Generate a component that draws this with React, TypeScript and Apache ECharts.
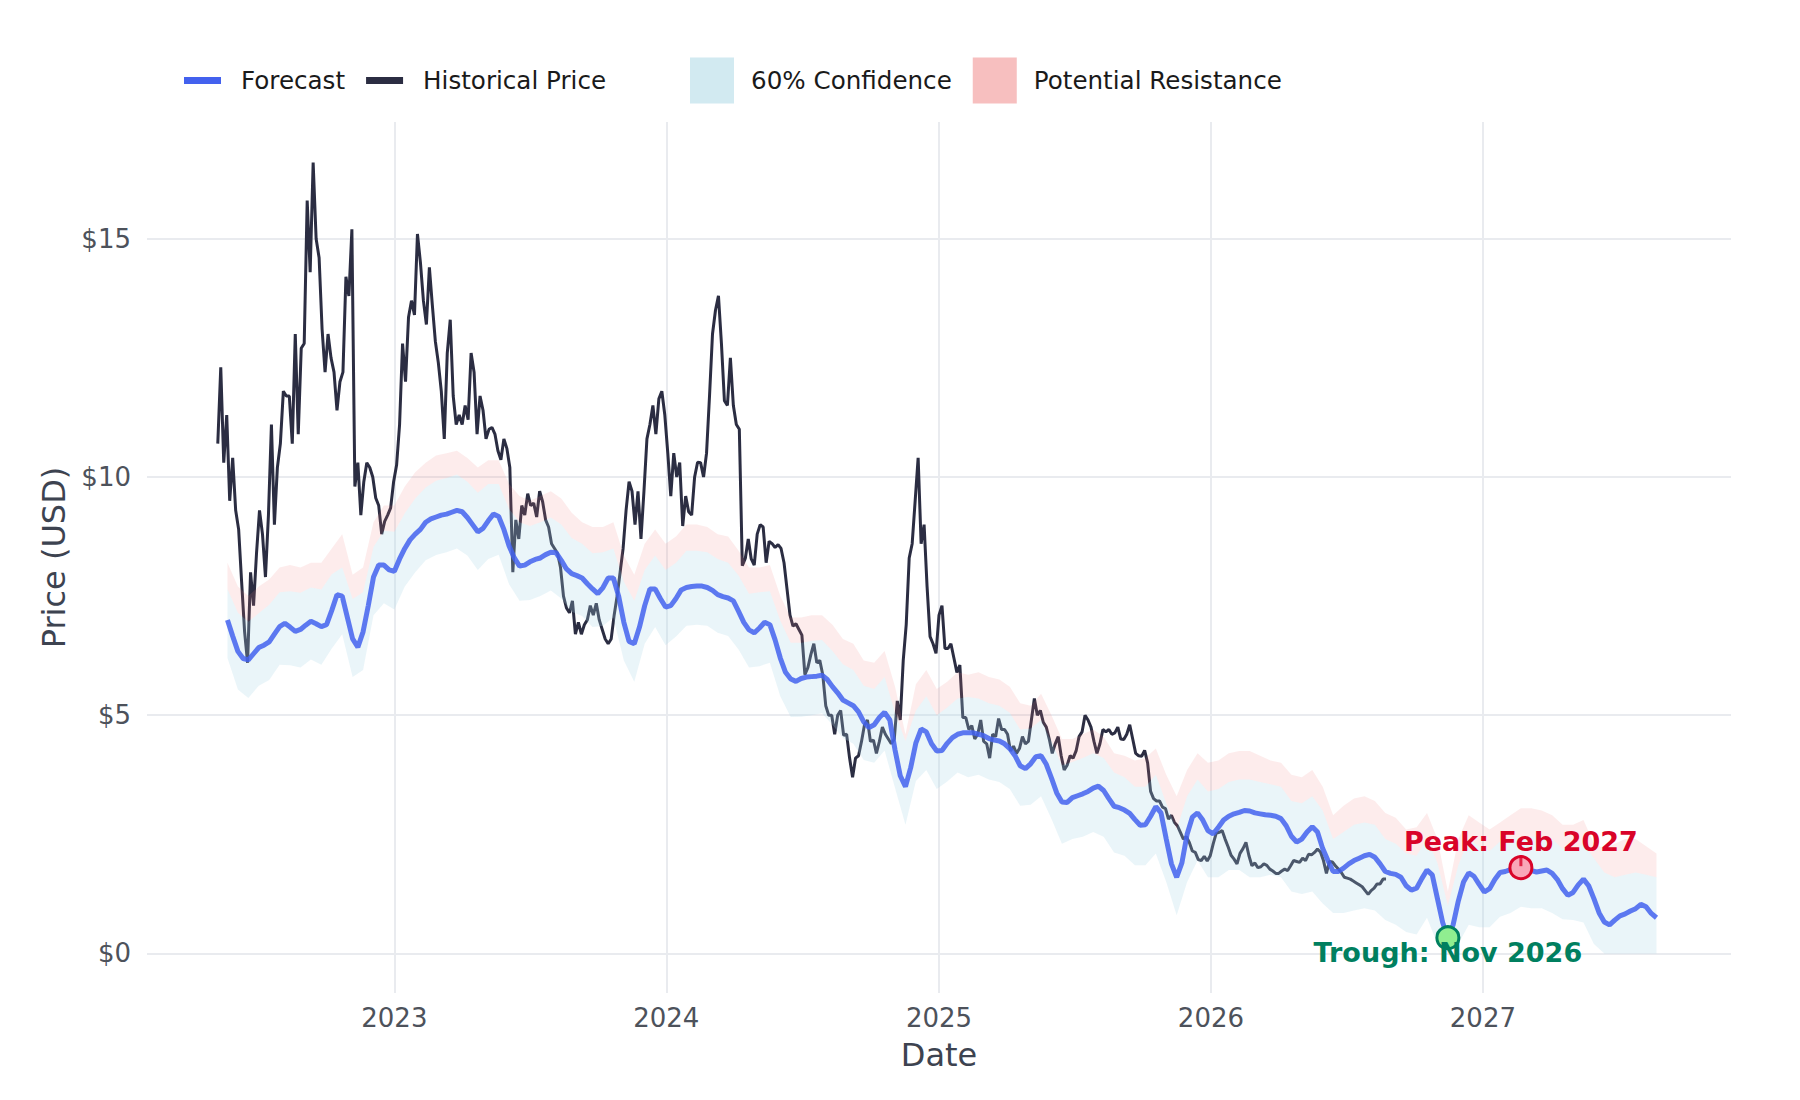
import { useEffect, useRef } from "react";
import * as echarts from "echarts";

// historical closes, one reading every 4 days
const historyStart = "2022-05-09";
const historyStepDays = 4;
const historyPrice = [
  10.7, 12.3, 10.3, 11.3, 9.5, 10.4, 9.3, 8.9, 7.8, 6.75,
  6.1, 8.0, 7.3, 8.4, 9.3, 8.8, 7.9, 9.2, 11.1, 9.0,
  10.2, 10.7, 11.8, 11.7, 11.7, 10.7, 13.0, 10.9, 12.7, 12.8,
  15.8, 14.3, 16.6, 15.0, 14.6, 13.1, 12.2, 13.0, 12.5, 12.2,
  11.4, 12.0, 12.2, 14.2, 13.8, 15.2, 9.8, 10.3, 9.2, 9.9,
  10.3, 10.2, 10.0, 9.56, 9.4, 8.8, 9.07, 9.2, 9.35, 9.9,
  10.25, 11.1, 12.8, 12.0, 13.35, 13.7, 13.4, 15.1, 14.5, 13.7,
  13.2, 14.4, 13.6, 12.85, 12.4, 11.8, 10.8, 12.6, 13.3, 11.7,
  11.1, 11.3, 11.1, 11.5, 11.2, 12.6, 12.2, 10.9, 11.7, 11.4,
  10.8, 11.0, 11.04, 10.9, 10.55, 10.36, 10.8, 10.6, 10.2, 8.0,
  9.1, 8.7, 9.4, 9.2, 9.65, 9.4, 9.45, 9.16, 9.7, 9.48,
  9.1, 8.95, 8.6, 8.5, 8.4, 8.1, 7.5, 7.25, 7.15, 7.4,
  6.7, 6.95, 6.7, 6.9, 7.0, 7.3, 7.1, 7.35, 7.0, 6.8,
  6.6, 6.5, 6.6, 7.1, 7.5, 8.0, 8.5, 9.3, 9.9, 9.7,
  9.0, 9.7, 8.7, 9.7, 10.8, 11.1, 11.5, 10.9, 11.64, 11.8,
  11.3, 10.5, 9.6, 10.5, 10.0, 10.3, 8.97, 9.6, 9.27, 9.2,
  10.0, 10.31, 10.3, 10.0, 10.5, 11.7, 13.0, 13.5, 13.8, 12.8,
  11.6, 11.5, 12.5, 11.5, 11.1, 11.0, 8.14, 8.29, 8.7, 8.28,
  8.15, 8.8, 9.0, 8.95, 8.2, 8.65, 8.6, 8.52, 8.58, 8.5,
  8.2, 7.65, 7.1, 6.87, 6.92, 6.8, 6.68, 5.85, 6.0, 6.27,
  6.5, 6.1, 6.15, 5.85, 5.2, 5.0, 5.0, 4.6, 5.0, 5.1,
  4.58, 4.6, 4.1, 3.7, 4.1, 4.15, 4.45, 4.8, 4.9, 4.45,
  4.48, 4.2, 4.45, 4.75, 4.6, 4.5, 4.4, 4.5, 5.3, 4.9,
  6.15, 6.9, 8.3, 8.6, 9.5, 10.4, 8.6, 9.0, 7.7, 6.65,
  6.5, 6.3, 7.1, 7.3, 6.4, 6.4, 6.5, 6.2, 5.9, 6.05,
  4.95, 4.95, 4.7, 4.78, 4.5, 4.6, 4.9, 4.45, 4.4, 4.1,
  4.6, 4.55, 4.93, 4.7, 4.7, 4.6, 4.25, 4.35, 4.2, 4.3,
  4.55, 4.4, 4.45, 4.9, 5.35, 5.0, 5.1, 4.85, 4.75, 4.5,
  4.2, 4.4, 4.55, 4.15, 3.85, 3.95, 4.15, 4.1, 4.25, 4.55,
  4.65, 5.0, 4.9, 4.75, 4.45, 4.2, 4.4, 4.7, 4.65, 4.7,
  4.6, 4.63, 4.75, 4.5, 4.49, 4.6, 4.8, 4.5, 4.2, 4.15,
  4.14, 4.26, 4.0, 3.4, 3.25, 3.2, 3.2, 3.07, 3.04, 2.82,
  2.9, 2.75, 2.68, 2.54, 2.4, 2.45, 2.33, 2.15, 2.12, 1.97,
  1.95, 2.04, 1.94, 2.05, 2.3, 2.52, 2.54, 2.58, 2.4, 2.24,
  2.06, 1.98, 1.88, 2.1, 2.2, 2.33, 2.05, 1.84, 1.9, 1.8,
  1.82, 1.88, 1.85, 1.77, 1.73, 1.68, 1.68, 1.73, 1.77, 1.74,
  1.84, 1.95, 1.93, 1.91, 2.0, 1.95, 2.08, 2.07, 2.12, 2.19,
  2.13, 1.95, 1.68, 1.93, 1.92, 1.84, 1.77, 1.7, 1.6, 1.58,
  1.56, 1.52, 1.48, 1.44, 1.4, 1.32, 1.24, 1.32, 1.37, 1.46,
  1.46, 1.56, 1.56,
];

// weekly forecast
const forecastStart = "2022-05-22";
const forecastStepDays = 7;
const forecastPrice = [
  7.0, 6.66, 6.34, 6.19, 6.16, 6.29, 6.42, 6.47, 6.54, 6.7,
  6.86, 6.93, 6.85, 6.76, 6.8, 6.89, 6.97, 6.92, 6.86, 6.9,
  7.2, 7.53, 7.5, 7.05, 6.6, 6.43, 6.75, 7.3, 7.9, 8.15,
  8.15, 8.05, 8.02, 8.28, 8.5, 8.68, 8.8, 8.9, 9.05, 9.12,
  9.16, 9.2, 9.22, 9.26, 9.3, 9.27, 9.15, 9.0, 8.85, 8.92,
  9.08, 9.22, 9.17, 8.9, 8.55, 8.3, 8.13, 8.15, 8.22, 8.27,
  8.3, 8.37, 8.42, 8.41, 8.25, 8.07, 7.97, 7.93, 7.88, 7.76,
  7.65, 7.55, 7.68, 7.88, 7.88, 7.5, 6.95, 6.55, 6.5, 6.85,
  7.3, 7.65, 7.65, 7.45, 7.27, 7.3, 7.45, 7.63, 7.68, 7.7,
  7.71, 7.71, 7.68, 7.62, 7.53, 7.49, 7.46, 7.4, 7.18, 6.95,
  6.79, 6.73, 6.83, 6.95, 6.9, 6.58, 6.2, 5.9, 5.76, 5.71,
  5.77, 5.8, 5.81, 5.82, 5.84, 5.75, 5.6, 5.47, 5.32, 5.26,
  5.2, 5.07, 4.86, 4.74, 4.8, 4.95, 5.06, 4.9, 4.27, 3.73,
  3.5, 3.9, 4.42, 4.71, 4.65, 4.4, 4.25, 4.26, 4.41, 4.53,
  4.6, 4.63, 4.63, 4.63, 4.6, 4.57, 4.51, 4.48, 4.46, 4.4,
  4.3, 4.15, 3.94, 3.88, 3.98, 4.13, 4.15, 3.97, 3.68, 3.37,
  3.18, 3.17, 3.27, 3.31, 3.35, 3.4, 3.47, 3.51, 3.42, 3.25,
  3.09, 3.06, 3.01, 2.94, 2.81, 2.69, 2.7, 2.88, 3.08, 2.95,
  2.4, 1.88, 1.6, 1.9, 2.5, 2.86, 2.95, 2.8, 2.58, 2.51,
  2.65, 2.8, 2.88, 2.93, 2.96, 3.0, 2.99, 2.95, 2.93, 2.91,
  2.9, 2.88, 2.83, 2.68, 2.46, 2.34, 2.4, 2.55, 2.66, 2.55,
  2.2, 1.95, 1.72, 1.72, 1.79, 1.88, 1.95, 2.0, 2.05, 2.08,
  2.02, 1.88, 1.72, 1.68, 1.66, 1.6, 1.42, 1.33, 1.37, 1.57,
  1.75, 1.65, 1.15, 0.65, 0.33, 0.6, 1.1, 1.5, 1.69, 1.62,
  1.45, 1.29, 1.36, 1.55, 1.7, 1.72, 1.76, 1.79, 1.8, 1.79,
  1.74, 1.71, 1.73, 1.75, 1.68, 1.55, 1.36, 1.22, 1.28, 1.44,
  1.56, 1.42, 1.15, 0.85, 0.66, 0.6, 0.7, 0.79, 0.83, 0.89,
  0.94, 1.03, 0.98, 0.84, 0.75,
];

// bands, every 14 days from the forecast start
const bandStepDays = 14;
const confidenceLow = [
  6.2, 5.54, 5.36, 5.62, 5.74, 6.06, 6.05, 6.0, 6.17, 6.06,
  6.4, 6.7, 5.8, 5.95, 7.1, 7.35, 7.22, 7.7, 8.0, 8.25,
  8.36, 8.42, 8.5, 8.35, 8.05, 8.28, 8.37, 7.75, 7.4, 7.42,
  7.5, 7.62, 7.45, 7.17, 7.08, 6.85, 6.88, 7.05, 6.15, 5.7,
  6.5, 6.85, 6.47, 6.65, 6.88, 6.9, 6.88, 6.73, 6.66, 6.38,
  6.0, 6.03, 6.1, 5.4, 4.96, 4.97, 5.0, 5.04, 4.8, 4.52,
  4.4, 4.06, 4.0, 4.26, 3.47, 2.7, 3.62, 3.85, 3.45, 3.61,
  3.8, 3.7, 3.75, 3.65, 3.6, 3.45, 3.1, 3.12, 3.3, 2.82,
  2.3, 2.4, 2.45, 2.55, 2.45, 2.12, 2.05, 1.85, 1.85, 2.1,
  1.5, 0.8, 1.5, 1.95, 1.6, 1.6, 1.75, 1.75, 1.6, 1.6,
  1.65, 1.6, 1.3, 1.25, 1.3, 1.05, 0.85, 0.85, 0.9, 0.95,
  0.9, 0.7, 0.6, 0.45, 0.4, 0.75, 0.2, 0, 0.2, 0.6,
  0.55, 0.55, 0.77, 0.85, 0.98, 0.95, 0.95, 0.85, 0.72, 0.7,
  0.65, 0.2, 0, 0, 0, 0, 0, 0,
];
const confidenceHigh = [
  7.65, 7.15, 6.96, 7.14, 7.32, 7.58, 7.6, 7.57, 7.68, 7.64,
  7.96, 8.1, 7.44, 7.58, 8.53, 8.87, 8.85, 9.24, 9.55, 9.78,
  9.92, 9.98, 10.05, 9.9, 9.67, 9.85, 9.85, 9.33, 9.05, 8.97,
  9.05, 9.15, 9.0, 8.72, 8.6, 8.4, 8.42, 8.5, 7.8, 7.4,
  8.05, 8.35, 8.05, 8.2, 8.45, 8.45, 8.42, 8.28, 8.2, 7.93,
  7.55, 7.58, 7.6, 6.98, 6.52, 6.52, 6.56, 6.58, 6.35, 6.07,
  5.95, 5.62, 5.55, 5.8, 5.05, 4.46, 5.1, 5.4, 5.0, 5.16,
  5.35, 5.38, 5.35, 5.25, 5.2, 5.05, 4.7, 4.72, 4.9, 4.45,
  3.95, 4.02, 4.1, 4.2, 4.1, 3.8, 3.7, 3.5, 3.5, 3.75,
  3.15, 2.6, 3.3, 3.65, 3.4, 3.45, 3.6, 3.65, 3.65, 3.6,
  3.55, 3.5, 3.2, 3.15, 3.3, 3.0, 2.4, 2.55, 2.7, 2.75,
  2.7, 2.4, 2.3, 2.1, 2.05, 2.4, 1.9, 1.0, 1.85, 2.4,
  2.25, 2.15, 2.35, 2.4, 2.45, 2.45, 2.45, 2.4, 2.2, 2.15,
  2.3, 2.0, 1.7, 1.6, 1.65, 1.7, 1.65, 1.6,
];
const resistanceHigh = [
  8.2, 7.7, 7.5, 7.7, 7.85, 8.1, 8.15, 8.1, 8.2, 8.2,
  8.5, 8.8, 7.95, 8.1, 9.05, 9.4, 9.4, 9.8, 10.1, 10.3,
  10.45, 10.5, 10.55, 10.4, 10.2, 10.35, 10.35, 9.85, 9.6, 9.5,
  9.6, 9.7, 9.55, 9.25, 9.05, 8.95, 8.95, 9.05, 8.35, 7.95,
  8.6, 8.9, 8.6, 8.75, 9.0, 9.0, 8.95, 8.8, 8.75, 8.45,
  8.1, 8.1, 8.15, 7.5, 7.05, 7.05, 7.1, 7.1, 6.9, 6.6,
  6.5, 6.15, 6.1, 6.35, 5.6, 4.6, 5.65, 5.95, 5.55, 5.7,
  5.9, 5.85, 5.9, 5.8, 5.75, 5.6, 5.25, 5.2, 5.45, 5.0,
  4.5, 4.5, 4.6, 4.7, 4.55, 4.2, 4.15, 4.05, 4.1, 4.3,
  3.75, 3.3, 3.85, 4.2, 4.0, 4.05, 4.2, 4.25, 4.25, 4.15,
  4.05, 4.0, 3.75, 3.7, 3.85, 3.5, 2.9, 3.1, 3.25, 3.3,
  3.2, 2.95, 2.85, 2.6, 2.65, 2.95, 2.4, 1.3, 2.4, 2.9,
  2.75, 2.6, 2.75, 2.9, 3.05, 3.05, 3.0, 2.9, 2.7, 2.7,
  2.8, 2.3, 2.2, 2.3, 2.4, 2.4, 2.25, 2.1,
];

const yTicks = [0, 5, 10, 15];
const xTickYears = [2023, 2024, 2025, 2026, 2027];
const monthNames = ["Jan", "Feb", "Mar", "Apr", "May", "Jun", "Jul", "Aug", "Sep", "Oct", "Nov", "Dec"];

const DAY = 86400000;
const FONT = "DejaVu Sans";

function dayMs(s: string) {
  const [y, m, d] = s.split("-").map(Number);
  return new Date(y, m - 1, d).getTime();
}

const historyT0 = dayMs(historyStart);
const forecastT0 = dayMs(forecastStart);
const historyData = historyPrice.map((v, i) => [historyT0 + i * historyStepDays * DAY, v]);
const forecastData = forecastPrice.map((v, i) => [forecastT0 + i * forecastStepDays * DAY, v]);
const bandTimes = confidenceLow.map((_, i) => forecastT0 + i * bandStepDays * DAY);

// peak and trough of the forecast once the history has ended
const historyEnd = historyData[historyData.length - 1][0];
let peakIdx = -1;
let troughIdx = -1;
forecastPrice.forEach((v, i) => {
  if (forecastData[i][0] <= historyEnd) return;
  if (peakIdx < 0 || v > forecastPrice[peakIdx]) peakIdx = i;
  if (troughIdx < 0 || v < forecastPrice[troughIdx]) troughIdx = i;
});
const monthLabel = (t: number) => {
  const d = new Date(t);
  return monthNames[d.getMonth()] + " " + d.getFullYear();
};
const peakPoint = forecastData[peakIdx];
const troughPoint = forecastData[troughIdx];

// one filled polygon between two edges, placed through the axes
function bandSeries(name: string, lower: number[], upper: number[], fill: string, legendColor: string, z: number) {
  return {
    name,
    type: "custom",
    coordinateSystem: "cartesian2d",
    silent: true,
    z,
    itemStyle: { color: legendColor },
    data: [[bandTimes[0], lower[0]]],
    encode: { x: 0, y: 1 },
    renderItem: (_params: any, api: any) => {
      const top = upper.map((v, i) => api.coord([bandTimes[i], v]));
      const bottom = lower.map((v, i) => api.coord([bandTimes[i], v])).reverse();
      return {
        type: "polygon",
        shape: { points: top.concat(bottom) },
        style: { fill },
      };
    },
  };
}

function buildOption() {
  const gridColor = "#e9ebef";
  const tickColor = "#4d525b";
  const titleColor = "#3d4350";
  const peakColor = "#d90429";
  const troughColor = "#007f5f";
  const confLegend = "rgba(173,216,230,0.55)";
  const resistLegend = "rgba(240,128,128,0.5)";
  const xTicks = xTickYears.map((y) => new Date(y, 0, 1).getTime());

  return {
    animation: false,
    backgroundColor: "#ffffff",
    textStyle: { fontFamily: FONT },
    grid: { left: 147, top: 122, width: 1584, height: 871 },
    legend: [
      {
        left: 184,
        top: 68,
        padding: 0,
        icon: "rect",
        itemWidth: 37,
        itemHeight: 7,
        itemGap: 21,
        selectedMode: false,
        itemStyle: { borderWidth: 0 },
        textStyle: { fontSize: 24.6, color: "#1a1a1a", fontFamily: FONT, padding: [0, 0, 0, 15] },
        data: [
          { name: "Forecast", itemStyle: { color: "#4361ee" } },
          { name: "Historical Price", itemStyle: { color: "#2b2d42" } },
        ],
      },
      {
        left: 690,
        top: 57.5,
        padding: 0,
        icon: "rect",
        itemWidth: 44,
        itemHeight: 46,
        itemGap: 21,
        selectedMode: false,
        itemStyle: { borderWidth: 0 },
        textStyle: { fontSize: 24.6, color: "#1a1a1a", fontFamily: FONT, padding: [0, 0, 0, 12] },
        data: [
          { name: "60% Confidence", itemStyle: { color: confLegend } },
          { name: "Potential Resistance", itemStyle: { color: resistLegend } },
        ],
      },
    ],
    xAxis: {
      type: "value",
      min: dayMs("2022-02-03"),
      max: dayMs("2027-11-30"),
      axisLine: { show: false },
      axisTick: { show: false },
      splitLine: { show: false },
      axisLabel: {
        customValues: xTicks,
        formatter: (v: number) => String(new Date(v).getFullYear()),
        fontSize: 26,
        color: tickColor,
        margin: 12,
        fontFamily: FONT,
      },
      name: "Date",
      nameLocation: "middle",
      nameGap: 46,
      nameTextStyle: { fontSize: 32, color: titleColor, fontFamily: FONT },
    },
    yAxis: {
      type: "value",
      min: -0.83,
      max: 17.45,
      axisLine: { show: false },
      axisTick: { show: false },
      splitLine: { show: false },
      axisLabel: {
        customValues: yTicks,
        formatter: (v: number) => "$" + v,
        fontSize: 26,
        color: tickColor,
        margin: 16,
        fontFamily: FONT,
      },
      name: "Price (USD)",
      nameLocation: "middle",
      nameGap: 77,
      nameTextStyle: { fontSize: 32, color: titleColor, fontFamily: FONT },
    },
    series: [
      {
        name: "gridlines",
        type: "line",
        data: [],
        silent: true,
        z: 0,
        markLine: {
          silent: true,
          z: 0,
          symbol: ["none", "none"],
          label: { show: false },
          lineStyle: { color: gridColor, width: 2, type: "solid" },
          emphasis: { disabled: true },
          data: [...yTicks.map((v) => ({ yAxis: v })), ...xTicks.map((t) => ({ xAxis: t }))],
        },
      },
      {
        name: "Historical Price",
        type: "line",
        data: historyData,
        symbol: "none",
        silent: true,
        z: 1,
        itemStyle: { color: "#2b2d42" },
        lineStyle: { color: "#2b2d42", width: 3 },
      },
      bandSeries("60% Confidence", confidenceLow, confidenceHigh, "rgba(173,216,230,0.25)", confLegend, 2),
      bandSeries("Potential Resistance", confidenceHigh, resistanceHigh, "rgba(240,128,128,0.15)", resistLegend, 3),
      {
        name: "Forecast",
        type: "line",
        data: forecastData,
        symbol: "none",
        silent: true,
        z: 4,
        itemStyle: { color: "#4361ee" },
        lineStyle: { color: "#4361ee", width: 5, opacity: 0.85 },
      },
      {
        name: "peak",
        type: "scatter",
        data: [peakPoint],
        symbol: "circle",
        symbolSize: 22,
        silent: true,
        z: 5,
        itemStyle: { color: "#f9a8b8", borderColor: peakColor, borderWidth: 3, opacity: 1 },
        label: {
          show: true,
          position: "top",
          distance: 0,
          formatter: "Peak: " + monthLabel(peakPoint[0]),
          color: peakColor,
          fontSize: 27,
          fontWeight: "bold",
          fontFamily: FONT,
        },
      },
      {
        name: "trough",
        type: "scatter",
        data: [troughPoint],
        symbol: "circle",
        symbolSize: 22,
        silent: true,
        z: 5,
        itemStyle: { color: "#90ee90", borderColor: troughColor, borderWidth: 3, opacity: 1 },
        label: {
          show: true,
          position: "bottom",
          distance: 0,
          offset: [0, -11],
          formatter: "Trough: " + monthLabel(troughPoint[0]),
          color: troughColor,
          fontSize: 27,
          fontWeight: "bold",
          fontFamily: FONT,
        },
      },
      {
        name: "peakArrow",
        type: "scatter",
        data: [peakPoint],
        symbol: "rect",
        symbolSize: [3, 11],
        symbolOffset: [0, -7],
        silent: true,
        z: 6,
        itemStyle: { color: peakColor },
      },
    ],
  };
}

function Chart() {
  const chartRef = useRef<HTMLDivElement>(null);

  useEffect(() => {
    const chart = echarts.init(chartRef.current!, undefined, { renderer: "svg" });
    chart.setOption(buildOption() as any);
    return () => {
      chart.dispose();
    };
  }, []);

  return (
    <div
      ref={chartRef}
      style={{ position: "fixed", left: 0, top: 0, width: 1800, height: 1100, background: "#fff" }}
    />
  );
}

export default function App() {
  return <Chart />;
}
